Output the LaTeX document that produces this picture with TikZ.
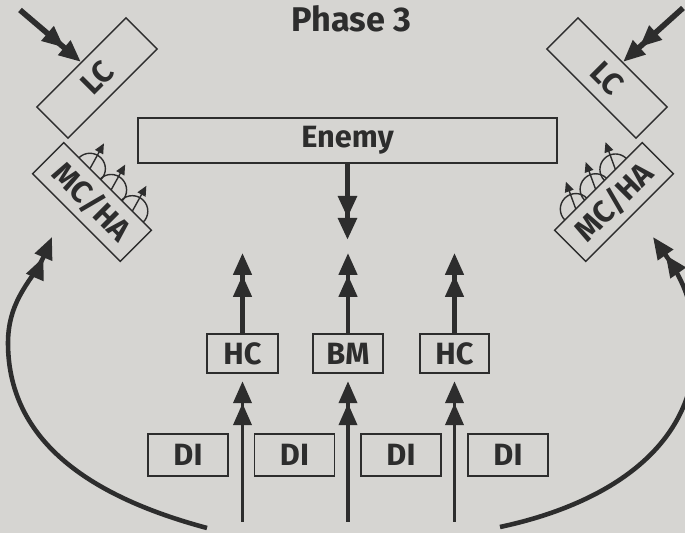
\documentclass[tikz,border=0pt]{standalone}
\usepackage{fontspec}
\setmainfont{Fira Sans}
\usetikzlibrary{arrows.meta}
\definecolor{paper}{RGB}{214,213,210}
\definecolor{ink}{RGB}{45,45,45}

\begin{document}
\begin{tikzpicture}[
    lbl/.style={text=ink, font=\fontsize{17.5}{20}\selectfont\bfseries},
    box/.style={lbl, draw=ink, line width=0.8pt, inner sep=0pt},
    dbl/.style={draw=ink, line width=#1,
        -{Triangle[length=4.4mm,width=3.6mm,sep=0pt] Triangle[length=4.4mm,width=3.6mm]}},
    dbl/.default=2.6pt,
    ant/.style={draw=ink, line width=0.8pt}]
    \clip (0,0) rectangle (13.7,10.66);
    \fill[paper] (0,0) rectangle (13.7,10.66);
    \node[lbl, font=\fontsize{19.5}{22}\selectfont\bfseries] (title) at (7.03,10.28) {Phase 3};
    \node[box, line width=1.1pt, minimum width=8.38cm, minimum height=0.9cm] (enemy) at (6.95,7.85) {Enemy};
    \node[box, rotate=45, minimum width=2.52cm, minimum height=0.88cm] (lcL) at (1.94,9.1) {LC};
    \node[box, rotate=-45, minimum width=2.52cm, minimum height=0.88cm] (lcR) at (12.14,9.1) {LC};
    \node[box, rotate=-45, minimum width=2.48cm, minimum height=0.88cm] (mchaL) at (1.84,6.62) {MC/HA};
    \node[box, rotate=45, minimum width=2.48cm, minimum height=0.88cm] (mchaR) at (12.28,6.62) {MC/HA};
    \node[box, minimum width=1.42cm, minimum height=0.78cm] (hcL) at (4.85,3.59) {HC};
    \node[box, minimum width=1.40cm, minimum height=0.78cm] (bm) at (6.96,3.59) {BM};
    \node[box, minimum width=1.38cm, minimum height=0.78cm] (hcR) at (9.09,3.59) {HC};
    \node[box, minimum width=1.6cm, minimum height=0.84cm] (diA) at (3.76,1.56) {DI};
    \node[box, minimum width=1.6cm, minimum height=0.84cm] (diB) at (5.89,1.56) {DI};
    \node[box, minimum width=1.6cm, minimum height=0.84cm] (diC) at (8.02,1.56) {DI};
    \node[box, minimum width=1.6cm, minimum height=0.84cm] (diD) at (10.16,1.56) {DI};
    \coordinate (inL) at (0.4,10.46);
    \coordinate (inR) at (13.66,10.5);
    \coordinate (hit) at (6.95,5.86);
    \coordinate (top) at (0,5.6);
    \coordinate (bot) at (0,0.22);
    \coordinate (swL) at (4.14,0.1);
    \coordinate (sideL) at (0.16,3.8);
    \coordinate (tipL) at (1.04,5.92);
    \coordinate (swR) at (10.0,0.12);
    \coordinate (sideR) at (13.9,3.7);
    \coordinate (tipR) at (13.06,5.92);
    \draw[dbl=3.2pt] (inL) -- (lcL.north);
    \draw[dbl=3.2pt] (inR) -- (lcR.north);
    \draw[dbl=3.4pt] (enemy.south) -- (hit);
    \foreach \n in {hcL,bm,hcR} {
        \draw[dbl] (\n.north) -- (\n.north |- top);
        \draw[dbl=2.2pt, shorten >=1.5mm] (\n.south |- bot) -- (\n.south);
    }
    \draw[dbl=2.6pt] (swL) to[out=165,in=-90] (sideL) to[out=90,in=247] (tipL);
    \draw[dbl=2.6pt] (swR) to[out=12,in=-90] (sideR) to[out=90,in=-55] (tipR);
    \begin{scope}[shift={(mchaL.center)}, rotate=-45]
        \foreach \x in {-0.5,0.1,0.7} {
            \draw[ant] (\x+0.31,0.44) arc[start angle=0, end angle=180, radius=0.31];
            \draw[ant, -{Triangle[length=2mm,width=1.8mm]}] (\x,0.44) -- ++(106:0.58);
        }
    \end{scope}
    \begin{scope}[shift={(mchaR.center)}, rotate=45]
        \foreach \x in {-0.64,-0.08,0.48} {
            \draw[ant] (\x+0.31,0.44) arc[start angle=0, end angle=180, radius=0.31];
            \draw[ant, -{Triangle[length=2mm,width=1.8mm]}] (\x,0.44) -- ++(65:0.58);
        }
    \end{scope}
\end{tikzpicture}
\end{document}
